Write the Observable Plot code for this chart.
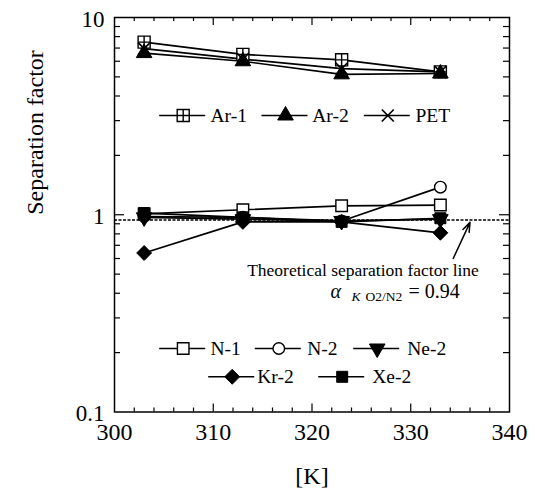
<!DOCTYPE html>
<html>
<head>
<meta charset="utf-8">
<script src="https://cdn.jsdelivr.net/npm/d3@7"></script>
<script src="https://cdn.jsdelivr.net/npm/@observablehq/plot@0.6"></script>
<style>
  html, body { margin: 0; padding: 0; background: #fff; }
</style>
</head>
<body>
<div id="chart"></div>
<script>
// ---------- data ----------
const temps = [303, 313, 323, 333];
const seriesNames = ["Ar-1", "Ar-2", "PET", "N-1", "N-2", "Ne-2", "Kr-2", "Xe-2"];
const ar1 = [7.5, 6.5, 6.1, 5.3];
const ar2 = [6.6, 6.0, 5.15, 5.2];
const pet = [6.95, 6.15, 5.5, 5.3];
const n1 = [1.01, 1.06, 1.11, 1.12];
const n2 = [0.98, 0.97, 0.93, 1.38];
const ne2 = [0.97, 0.95, 0.93, 0.95];
const kr2 = [0.64, 0.92, 0.92, 0.81];
const xe2 = [1.02, 0.97, 0.92, 0.96];
const theoretical = 0.94;
const xTicks = [300, 310, 320, 330, 340];
const xMajorTicks = [310, 320, 330];
const xMinorTicks = [302, 304, 306, 308, 312, 314, 316, 318, 322, 324, 326, 328, 332, 334, 336, 338];
const yTicks = [0.1, 1, 10];
const yMinorTicks = [0.2, 0.3, 0.4, 0.5, 0.6, 0.7, 0.8, 0.9, 2, 3, 4, 5, 6, 7, 8, 9];
const arrowAnno = [{x1: 334.3, y1: 0.6, x2: 336.0, y2: 0.915}];
const annoLine1 = "Theoretical separation factor line";

const valuesBySeries = [ar1, ar2, pet, n1, n2, ne2, kr2, xe2];
const rows = [];
seriesNames.forEach((s, i) => temps.forEach((t, j) => rows.push({s, T: t, v: valuesBySeries[i][j]})));

// ---------- layout / style ----------
const W = 538, H = 494, mL = 114, mR = 29, mT = 17, mB = 82.5;
const fw = W - mL - mR, fh = H - mT - mB;
const FONT = "'Liberation Serif', 'Times New Roman', serif";

const squarePlus = {
  draw(ctx, size) {
    const s = Math.sqrt(size) / 2;
    ctx.moveTo(-s, -s); ctx.lineTo(s, -s); ctx.lineTo(s, s); ctx.lineTo(-s, s); ctx.closePath();
    ctx.moveTo(0, -s); ctx.lineTo(0, s);
    ctx.moveTo(-s, 0); ctx.lineTo(s, 0);
  }
};
const legendLine = {
  draw(ctx) { ctx.moveTo(-24, 0); ctx.lineTo(22, 0); }
};

const styles = {
  "Ar-1": {symbol: squarePlus, fill: "white", stroke: "black", r: 6.8, strokeWidth: 1.4},
  "Ar-2": {symbol: "triangle", fill: "black", stroke: "black", r: 5.8, strokeWidth: 1},
  "PET":  {symbol: "times", fill: "none", stroke: "black", r: 5.5, strokeWidth: 1.7},
  "N-1":  {symbol: "square", fill: "white", stroke: "black", r: 6.5, strokeWidth: 1.4},
  "N-2":  {symbol: "circle", fill: "white", stroke: "black", r: 5.8, strokeWidth: 1.4},
  "Ne-2": {symbol: "triangle", fill: "black", stroke: "black", r: 5.8, strokeWidth: 1, rotate: 180},
  "Kr-2": {symbol: "diamond2", fill: "black", stroke: "black", r: 6.7, strokeWidth: 1},
  "Xe-2": {symbol: "square", fill: "black", stroke: "black", r: 6.2, strokeWidth: 1}
};

// legend layout: offsets from frame top-left (marker centre, text start, row centre)
const legendLayout = {
  "Ar-1": [68.7, 96, 98],
  "Ar-2": [171, 197.7, 98],
  "PET":  [273.3, 301, 98],
  "N-1":  [68.7, 96, 331],
  "N-2":  [164.3, 192.7, 331],
  "Ne-2": [262.7, 292.7, 331],
  "Kr-2": [117.7, 142.7, 359.3],
  "Xe-2": [227.7, 257.7, 359.3]
};

const marks = [];

// inward ticks
const tk = {stroke: "black", strokeWidth: 1.2};
marks.push(Plot.tickY(yMinorTicks, {y: d => d, insetRight: fw - 6, ...tk}));
marks.push(Plot.tickY(yMinorTicks, {y: d => d, insetLeft: fw - 6, ...tk}));
marks.push(Plot.tickY([1], {y: d => d, insetRight: fw - 10, ...tk}));
marks.push(Plot.tickY([1], {y: d => d, insetLeft: fw - 10, ...tk}));
marks.push(Plot.tickX(xMinorTicks, {x: d => d, insetTop: fh - 4, ...tk}));
marks.push(Plot.tickX(xMinorTicks, {x: d => d, insetBottom: fh - 4, ...tk}));
marks.push(Plot.tickX(xMajorTicks, {x: d => d, insetTop: fh - 8, ...tk}));
marks.push(Plot.tickX(xMajorTicks, {x: d => d, insetBottom: fh - 8, ...tk}));

// theoretical line
marks.push(Plot.ruleY([theoretical], {y: d => d, stroke: "black", strokeWidth: 1.5, strokeDasharray: "3,1.5"}));

// series lines
marks.push(Plot.line(rows, {x: "T", y: "v", z: "s", stroke: "black", strokeWidth: 1.7}));

// series markers
seriesNames.forEach(s => {
  const st = styles[s];
  marks.push(Plot.dot(rows.filter(d => d.s === s), {x: "T", y: "v", ...st}));
});

// arrow
marks.push(Plot.arrow(arrowAnno, {x1: "x1", y1: "y1", x2: "x2", y2: "y2", stroke: "black", strokeWidth: 1.5, headLength: 10, headAngle: 40}));

// annotation text
const fa = {x: null, y: null, frameAnchor: "top-left", fontFamily: FONT, fill: "black", lineAnchor: "bottom"};
marks.push(Plot.text([annoLine1], {...fa, text: d => d, dx: 248.5, dy: 258.5, textAnchor: "middle", fontSize: 17.5}));
marks.push(Plot.text(["α"], {...fa, text: d => d, dx: 216, dy: 280.5, textAnchor: "start", fontSize: 20, fontStyle: "italic"}));
marks.push(Plot.text(["K"], {...fa, text: d => d, dx: 237, dy: 283.5, textAnchor: "start", fontSize: 13.5, fontStyle: "italic"}));
marks.push(Plot.text(["O2/N2"], {...fa, text: d => d, dx: 251, dy: 283.5, textAnchor: "start", fontSize: 13.5}));
marks.push(Plot.text(["= 0.94"], {...fa, text: d => d, dx: 294, dy: 280.5, textAnchor: "start", fontSize: 20}));

// legends
seriesNames.forEach(s => {
  const [mx, tx, ry] = legendLayout[s];
  const st = styles[s];
  marks.push(Plot.dot([s], {x: null, y: null, frameAnchor: "top-left", dx: mx, dy: ry, symbol: legendLine, fill: "none", stroke: "black", strokeWidth: 1.5, r: 5}));
  marks.push(Plot.dot([s], {x: null, y: null, frameAnchor: "top-left", dx: mx, dy: ry, ...st}));
  marks.push(Plot.text([s], {x: null, y: null, frameAnchor: "top-left", dx: tx, dy: ry, text: d => d, textAnchor: "start", lineAnchor: "middle", fontSize: 19.5, fontFamily: FONT, fill: "black"}));
});

// frame
marks.push(Plot.frame({stroke: "black", strokeWidth: 1.5}));

// axes
marks.push(Plot.axisX({ticks: xTicks, tickSize: 0, tickPadding: 11, fontSize: 24, fontFamily: FONT, label: null, fill: "black"}));
marks.push(Plot.axisY({ticks: yTicks, tickFormat: d => String(d), tickSize: 0, tickPadding: 10, fontSize: 23, fontFamily: FONT, dy: 2, label: null, fill: "black"}));

// axis titles
marks.push(Plot.text(["[K]"], {x: null, y: null, frameAnchor: "bottom", dy: 64.5, text: d => d, lineAnchor: "middle", fontSize: 24, fontFamily: FONT, fill: "black"}));
marks.push(Plot.text(["Separation factor"], {x: null, y: null, frameAnchor: "left", dx: -79, text: d => d, rotate: -90, lineAnchor: "middle", fontSize: 24, fontFamily: FONT, fill: "black"}));

const chart = Plot.plot({
  width: W,
  height: H,
  marginLeft: mL,
  marginRight: mR,
  marginTop: mT,
  marginBottom: mB,
  style: {fontFamily: FONT, fontSize: "23px", color: "black", background: "white"},
  x: {domain: [300, 340]},
  y: {type: "log", domain: [0.1, 10]},
  marks
});
document.getElementById("chart").appendChild(chart);
</script>
</body>
</html>
